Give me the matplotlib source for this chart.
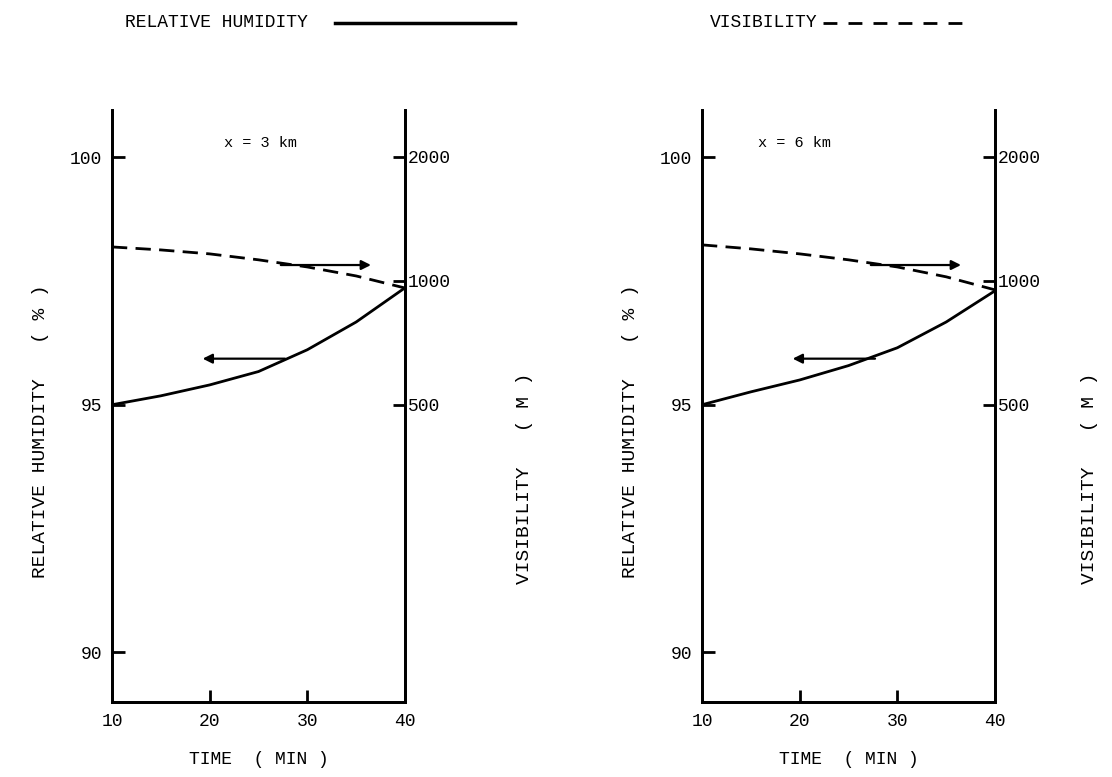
import numpy as np
import matplotlib
matplotlib.use("Agg")
import matplotlib.pyplot as plt
from matplotlib.lines import Line2D

plt.rcParams['font.family'] = ['Liberation Mono', 'DejaVu Sans Mono']

# time (min)
t = [10, 15, 20, 25, 30, 35, 40]

# x = 3 km panel
rh_3km = [95.0, 95.18, 95.40, 95.67, 96.11, 96.67, 97.36]
vis_3km = [1209, 1189, 1163, 1125, 1081, 1028, 961]

# x = 6 km panel
rh_6km = [95.0, 95.26, 95.50, 95.79, 96.15, 96.67, 97.30]
vis_6km = [1223, 1196, 1163, 1125, 1081, 1023, 951]

panels = [
    ("x = 3 km", rh_3km, vis_3km, 0.1007, (25.2, 100.28)),
    ("x = 6 km", rh_6km, vis_6km, 0.6313, (19.5, 100.28)),
]

fig = plt.figure(figsize=(11.12, 7.77), dpi=100)

for title, rh, vis, left, tpos in panels:
    ax = fig.add_axes([left, 0.0965, 0.2635, 0.762])
    ax.plot(t, rh, 'k-', lw=2)
    ax.set_xlim(10, 40)
    ax.set_ylim(89.0, 100.95)
    ax.set_xticks([10, 20, 30, 40])
    ax.set_yticks([90, 95, 100])
    ax.tick_params(direction='in', length=9, width=2, labelsize=13, pad=7)
    ax.tick_params(axis='x', pad=8)
    for s in ax.spines.values():
        s.set_linewidth(2)
    ax.spines['top'].set_visible(False)
    ax.text(tpos[0], tpos[1], title, ha='center', va='center', fontsize=11)

    # visibility on a log scale, right axis
    ax2 = ax.twinx()
    ax2.plot(t, vis, 'k--', lw=2, dashes=(5.5, 3))
    ax2.set_yscale('log')
    ax2.set_ylim(95, 2600)
    ax2.set_yticks([500, 1000, 2000])
    ax2.set_yticklabels(['500', '1000', '2000'])
    ax2.minorticks_off()
    ax2.tick_params(direction='in', length=9, width=2, labelsize=13, pad=2)
    for s in ax2.spines.values():
        s.set_linewidth(2)
    ax2.spines['top'].set_visible(False)

    # arrows telling which axis each curve belongs to
    ax.annotate('', xy=(36.8, 97.82), xytext=(27.0, 97.82),
                arrowprops=dict(arrowstyle='-|>', color='k', lw=1.6, mutation_scale=14))
    ax.annotate('', xy=(19.0, 95.93), xytext=(28.0, 95.93),
                arrowprops=dict(arrowstyle='-|>', color='k', lw=1.6, mutation_scale=14))

    xc = left + 0.2635 / 2
    fig.text(xc, 0.022, "TIME  ( MIN )", ha='center', va='center', fontsize=13)

fig.text(0.036, 0.445, "RELATIVE HUMIDITY   ( % )", rotation=90, ha='center', va='center', fontsize=14)
fig.text(0.472, 0.385, "VISIBILITY   ( M )", rotation=90, ha='center', va='center', fontsize=14)
fig.text(0.567, 0.445, "RELATIVE HUMIDITY   ( % )", rotation=90, ha='center', va='center', fontsize=14)
fig.text(0.980, 0.385, "VISIBILITY   ( M )", rotation=90, ha='center', va='center', fontsize=14)

# legend header
fig.text(0.112, 0.971, "RELATIVE HUMIDITY", ha='left', va='center', fontsize=13)
fig.add_artist(Line2D([0.301, 0.463], [0.971, 0.971], color='k', lw=2.5))
fig.text(0.638, 0.971, "VISIBILITY", ha='left', va='center', fontsize=13)
fig.add_artist(Line2D([0.740, 0.870], [0.971, 0.971], color='k', lw=2, ls=(0, (5, 4))))

fig.savefig("out.png", dpi=100)
